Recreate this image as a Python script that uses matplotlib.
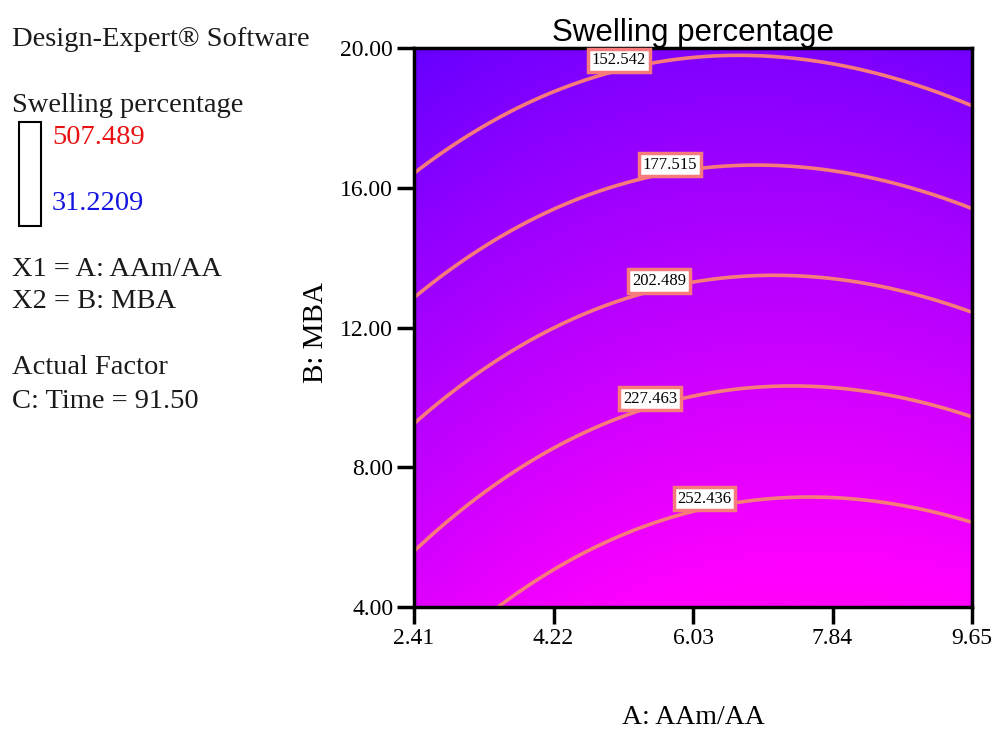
import numpy as np
import matplotlib
matplotlib.use("Agg")
import matplotlib.pyplot as plt
from matplotlib.colors import LinearSegmentedColormap
from matplotlib.patches import Rectangle

# contour levels shown on the chart
LEVELS = [152.542, 177.515, 202.489, 227.463, 252.436]

# points (A: AAm/AA, B: MBA)
A_152 = [2.41, 3.72, 4.95, 6.56, 7.99, 9.65]
B_152 = [16.39, 18.20, 19.34, 19.81, 19.48, 18.34]
A_177 = [2.41, 3.72, 5.33, 6.80, 8.46, 9.65]
B_177 = [12.88, 14.82, 16.20, 16.65, 16.34, 15.35]
A_202 = [2.41, 3.48, 4.00, 5.61, 7.04, 8.46, 9.65]
B_202 = [9.20, 11.23, 11.74, 13.07, 13.42, 13.12, 12.45]
A_227 = [2.41, 3.72, 5.38, 7.27, 8.70, 9.65]
B_227 = [5.54, 7.95, 9.59, 10.31, 10.12, 9.44]
A_252 = [3.50, 4.66, 6.18, 7.51, 8.70, 9.65]
B_252 = [4.00, 5.64, 6.79, 7.13, 6.94, 6.41]

X_TICKS = [2.41, 4.22, 6.03, 7.84, 9.65]
Y_TICKS = [4.00, 8.00, 12.00, 16.00, 20.00]
Y_MIN, Y_MAX = 31.2209, 507.489

# label spots on the contours
LABEL_A = [5.07, 5.73, 5.59, 5.47, 6.18]
LABEL_B = [19.65, 16.66, 13.33, 9.96, 7.10]

# quadratic response surface fitted to the read points
pts_a, pts_b, pts_y = [], [], []
for lev, aa, bb in zip(LEVELS, [A_152, A_177, A_202, A_227, A_252],
                       [B_152, B_177, B_202, B_227, B_252]):
    pts_a += aa
    pts_b += bb
    pts_y += [lev] * len(aa)
pts_a = np.array(pts_a); pts_b = np.array(pts_b); pts_y = np.array(pts_y)


def design(a, b):
    return np.stack([np.ones_like(a), a, b, a * a, b * b, a * b], axis=-1)


coef, *_ = np.linalg.lstsq(design(pts_a, pts_b), pts_y, rcond=None)

ga = np.linspace(X_TICKS[0], X_TICKS[-1], 300)
gb = np.linspace(Y_TICKS[0], Y_TICKS[-1], 300)
GA, GB = np.meshgrid(ga, gb)
Z = design(GA, GB) @ coef

serif = "Liberation Serif"
sans = "Liberation Sans"
line_col = "#f77b7b"

fig = plt.figure(figsize=(9.96, 7.31), dpi=100)
ax = fig.add_axes([0.4157, 0.1696, 0.5602, 0.7647])

cmap = LinearSegmentedColormap.from_list("bmr", ["#0000ff", "#ff00ff", "#ff0000"])
ax.imshow(Z, origin="lower", extent=[ga[0], ga[-1], gb[0], gb[-1]],
          cmap=cmap, vmin=Y_MIN, vmax=Y_MAX, aspect="auto", interpolation="bilinear")
ax.contour(GA, GB, Z, levels=LEVELS, colors=line_col, linewidths=2.6)

for lev, la, lb in zip(LEVELS, LABEL_A, LABEL_B):
    ax.text(la, lb, "%.3f" % lev, family=serif, fontsize=12, ha="center", va="center",
            zorder=5, bbox=dict(boxstyle="square,pad=0.22", facecolor="white",
                                edgecolor=line_col, linewidth=2.5))

ax.set_xlim(X_TICKS[0], X_TICKS[-1])
ax.set_ylim(Y_TICKS[0], Y_TICKS[-1])
ax.set_xticks(X_TICKS)
ax.set_yticks(Y_TICKS)
ax.set_xticklabels(["%.2f" % v for v in X_TICKS], family=serif, fontsize=17)
ax.set_yticklabels(["%.2f" % v for v in Y_TICKS], family=serif, fontsize=17)
ax.tick_params(direction="out", length=12, width=2.5, pad=3)
for s in ax.spines.values():
    s.set_linewidth(2.5)

ax.set_title("Swelling percentage", family=sans, fontsize=22.5, pad=3)
fig.text(693 / 996, 1 - 717 / 731, "A: AAm/AA", family=serif, fontsize=20,
         ha="center", va="center")
fig.text(316 / 996, 1 - 333 / 731, "B: MBA", family=serif, fontsize=21,
         ha="center", va="center", rotation=90)

# left info panel
left = 12 / 996
panel = [("Design-Expert\u00ae Software", 40),
         ("Swelling percentage", 105),
         ("X1 = A: AAm/AA", 269),
         ("X2 = B: MBA", 302),
         ("Actual Factor", 368),
         ("C: Time = 91.50", 401)]
for txt, yy in panel:
    fig.text(left, 1 - yy / 731, txt, family=serif, fontsize=20.5, color="#1a1a1a",
             ha="left", va="center")
fig.text(52 / 996, 1 - 138 / 731, "%.3f" % Y_MAX, family=serif, fontsize=20.5,
         color="#e81010", ha="left", va="center")
fig.text(52 / 996, 1 - 203 / 731, "%.4f" % Y_MIN, family=serif, fontsize=20.5,
         color="#1414e0", ha="left", va="center")
fig.add_artist(Rectangle((19 / 996, 1 - 226 / 731), 22 / 996, 104 / 731,
                         transform=fig.transFigure, fill=False, edgecolor="black",
                         linewidth=1.5))

fig.savefig("out.png", dpi=100)
